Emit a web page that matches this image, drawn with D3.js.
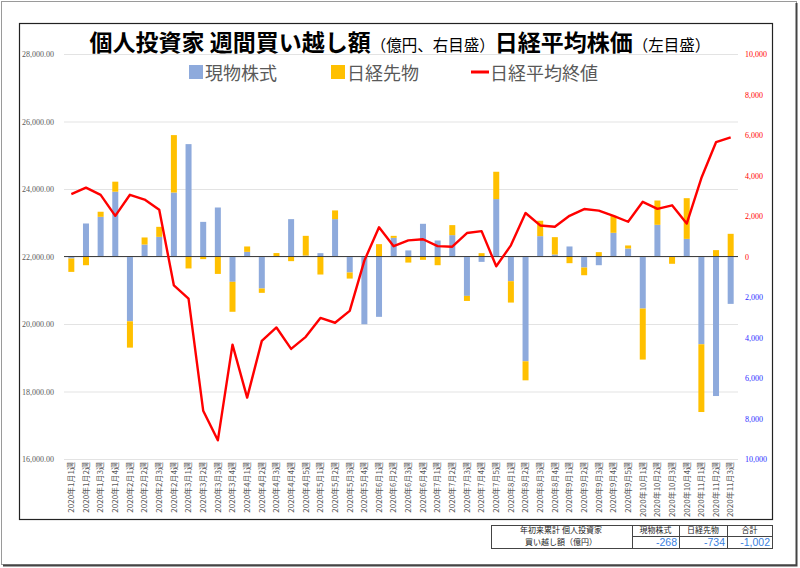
<!DOCTYPE html>
<html>
<head>
<meta charset="utf-8">
<script src="https://cdn.jsdelivr.net/npm/d3@7"></script>
<style>
body { margin: 0; background: #fff; }
svg text { font-family: "Noto Sans CJK JP", "Noto Sans", sans-serif; }
</style>
</head>
<body>
<div id="chart"></div>
<script>
// weekly labels
const weeks = [
	"2020年1月1週", "2020年1月2週", "2020年1月3週", "2020年1月4週",
	"2020年2月1週", "2020年2月2週", "2020年2月3週", "2020年2月4週",
	"2020年3月1週", "2020年3月2週", "2020年3月3週", "2020年3月4週",
	"2020年4月1週", "2020年4月2週", "2020年4月3週", "2020年4月4週", "2020年4月5週",
	"2020年5月1週", "2020年5月2週", "2020年5月3週", "2020年5月4週",
	"2020年6月1週", "2020年6月2週", "2020年6月3週", "2020年6月4週",
	"2020年7月1週", "2020年7月2週", "2020年7月3週", "2020年7月4週", "2020年7月5週",
	"2020年8月1週", "2020年8月2週", "2020年8月3週", "2020年8月4週",
	"2020年9月1週", "2020年9月2週", "2020年9月3週", "2020年9月4週", "2020年9月5週",
	"2020年10月1週", "2020年10月2週", "2020年10月3週", "2020年10月4週",
	"2020年11月1週", "2020年11月2週", "2020年11月3週"
];

// 現物株式 (億円)
const spot = [-100, 1630, 1960, 3200, -3200, 590, 970, 3160, 5550, 1710,
	2420, -1250, 230, -1580, 20, 1845, 50, 165, 1845, -790,
	-3345, -2980, 920, 300, 1615, 790, 1055, -1945, -265, 2835,
	-1220, -5175, 1005, 100, 495, -545, -430, 1170, 395, -2570,
	1565, 0, 870, -4335, -6890, -2340];

// 日経先物 (億円)
const futures = [-660, -430, 250, 495, -1300, 350, 495, 2835, -590, -130,
	-860, -1480, 265, -215, 150, -230, 970, -890, 430, -300,
	0, 610, 100, -300, -165, -430, 495, -250, 165, 1350,
	-1055, -940, 760, 855, -330, -380, 215, 840, 150, -2520,
	1200, -360, 2010, -3345, 315, 1120];

// 日経平均終値
const nikkei = [23851, 24041, 23827, 23205, 23828, 23688, 23387, 21143, 20750, 17431,
	16553, 19389, 17820, 19499, 19897, 19262, 19619, 20179, 20037, 20388,
	21878, 22864, 22305, 22479, 22512, 22306, 22291, 22696, 22752, 21710,
	22330, 23289, 22920, 22883, 23205, 23406, 23360, 23205, 23030, 23620,
	23411, 23517, 22977, 24325, 25386, 25527];

const leftTicks = [16000, 18000, 20000, 22000, 24000, 26000, 28000];
const rightTicks = [-10000, -8000, -6000, -4000, -2000, 0, 2000, 4000, 6000, 8000, 10000];

const tableHead = ["現物株式", "日経先物", "合計"];
const tableVals = ["-268", "-734", "-1,002"];

const width = 800, height = 568;
const plot = { left: 64, right: 738, top: 54, bottom: 459 };

const svg = d3.select("#chart").append("svg")
	.attr("width", width)
	.attr("height", height);

// frames
svg.append("rect").attr("x", 1.5).attr("y", 1.5).attr("width", 795).attr("height", 563)
	.attr("fill", "#fff").attr("stroke", "#9a9a9a").attr("stroke-width", 1);
svg.append("path").attr("d", "M796.5,3V565.5H3").attr("fill", "none").attr("stroke", "#444").attr("stroke-width", 2);
svg.append("rect").attr("x", 19.5).attr("y", 23.5).attr("width", 753).attr("height", 496)
	.attr("fill", "#fff").attr("stroke", "#222").attr("stroke-width", 1.2);

const x = d3.scaleBand().domain(weeks).range([plot.left, plot.right]);
const yL = d3.scaleLinear().domain([16000, 28000]).range([plot.bottom, plot.top]);
const yR = d3.scaleLinear().domain([-10000, 10000]).range([plot.bottom, plot.top]);

// gridlines
svg.append("g")
	.attr("transform", `translate(${plot.left},0)`)
	.call(d3.axisLeft(yL).tickValues(leftTicks).tickSize(-(plot.right - plot.left)).tickFormat(""))
	.call((g) => g.select(".domain").remove())
	.call((g) => g.selectAll("line").attr("stroke", "#e3e3e3").attr("stroke-width", 1.2));

// left axis labels
svg.append("g")
	.attr("transform", `translate(${plot.left - 1},0)`)
	.call(d3.axisLeft(yL).tickValues(leftTicks).tickSize(0).tickPadding(9).tickFormat(d3.format(",.2f")))
	.call((g) => g.select(".domain").remove())
	.call((g) => g.selectAll("text").attr("fill", "#595959").style("font-size", "8px")
		.style("font-family", "'Liberation Serif', serif"));

// right axis labels
svg.append("g")
	.attr("transform", `translate(${plot.right},0)`)
	.call(d3.axisRight(yR).tickValues(rightTicks).tickSize(0).tickPadding(7)
		.tickFormat((d) => d3.format(",")(Math.abs(d))))
	.call((g) => g.select(".domain").remove())
	.call((g) => g.selectAll("text")
		.attr("fill", (d) => (d >= 0 ? "#ff0000" : "#2b2bff"))
		.style("font-size", "8px")
		.style("font-family", "'Liberation Serif', serif"));

// stacked bars
const rows = weeks.map((w, i) => ({ week: w, spot: spot[i], futures: futures[i] }));
const series = d3.stack().keys(["spot", "futures"]).offset(d3.stackOffsetDiverging)(rows);
const colors = { spot: "#8eaadc", futures: "#ffc000" };
const barW = 6;

svg.append("g")
	.selectAll("g")
	.data(series)
	.enter()
	.append("g")
	.attr("fill", (s) => colors[s.key])
	.selectAll("rect")
	.data((s) => s)
	.enter()
	.append("rect")
	.attr("x", (d) => x(d.data.week) + x.bandwidth() / 2 - barW / 2)
	.attr("width", barW)
	.attr("y", (d) => yR(Math.max(d[0], d[1])))
	.attr("height", (d) => Math.abs(yR(d[0]) - yR(d[1])));

// zero line
svg.append("line")
	.attr("x1", plot.left).attr("x2", plot.right)
	.attr("y1", yR(0)).attr("y2", yR(0))
	.attr("stroke", "#404040").attr("stroke-width", 1);

// nikkei line
const line = d3.line()
	.x((d, i) => x(weeks[i]) + x.bandwidth() / 2)
	.y((d) => yL(d));

svg.append("path")
	.datum(nikkei)
	.attr("fill", "none")
	.attr("stroke", "#ff0000")
	.attr("stroke-width", 2.4)
	.attr("stroke-linejoin", "round")
	.attr("d", line);

// x axis labels
svg.append("g")
	.attr("transform", `translate(0,${plot.bottom})`)
	.call(d3.axisBottom(x).tickSize(0))
	.call((g) => g.select(".domain").remove())
	.call((g) => g.selectAll("text")
		.attr("transform", "rotate(-90)")
		.attr("x", -3)
		.attr("y", 0)
		.attr("dy", "0.35em")
		.style("text-anchor", "end")
		.style("font-size", "8px")
		.attr("fill", "#595959"));

// title
const title = svg.append("text")
	.attr("x", 400).attr("y", 51)
	.attr("text-anchor", "middle")
	.attr("fill", "#000");
title.append("tspan").style("font-size", "23px").style("font-weight", "bold").text("個人投資家 週間買い越し額");
title.append("tspan").style("font-size", "15.5px").text("（億円、右目盛）");
title.append("tspan").style("font-size", "23px").style("font-weight", "bold").text("日経平均株価");
title.append("tspan").style("font-size", "15.5px").text("（左目盛）");

// legend
const legend = svg.append("g").attr("fill", "#595959").style("font-size", "18px");
legend.append("rect").attr("x", 189).attr("y", 65).attr("width", 14).attr("height", 14).attr("fill", colors.spot);
legend.append("text").attr("x", 205).attr("y", 80).text("現物株式");
legend.append("rect").attr("x", 331).attr("y", 65).attr("width", 14).attr("height", 14).attr("fill", colors.futures);
legend.append("text").attr("x", 347).attr("y", 80).text("日経先物");
legend.append("line").attr("x1", 471).attr("x2", 489).attr("y1", 72).attr("y2", 72)
	.attr("stroke", "#ff0000").attr("stroke-width", 3);
legend.append("text").attr("x", 490).attr("y", 80).text("日経平均終値");

// summary table
const tbl = svg.append("g").style("font-size", "8px");
const tx = [491, 632, 679, 727, 772];
const ty = [525, 536, 548];
tbl.append("rect").attr("x", tx[0] + 0.5).attr("y", ty[0] + 0.5)
	.attr("width", tx[4] - tx[0]).attr("height", ty[2] - ty[0])
	.attr("fill", "#fff").attr("stroke", "#444").attr("stroke-width", 1);
[1, 2, 3].forEach((i) => {
	tbl.append("line").attr("x1", tx[i] + 0.5).attr("x2", tx[i] + 0.5)
		.attr("y1", ty[0]).attr("y2", ty[2]).attr("stroke", "#444");
});
tbl.append("line").attr("x1", tx[1]).attr("x2", tx[4]).attr("y1", ty[1] + 0.5).attr("y2", ty[1] + 0.5)
	.attr("stroke", "#444");
tbl.append("text").attr("x", 561).attr("y", 532.5).attr("text-anchor", "middle").attr("fill", "#222")
	.text("年初来累計 個人投資家");
tbl.append("text").attr("x", 561).attr("y", 545).attr("text-anchor", "middle").attr("fill", "#222")
	.text("買い越し額（億円）");
tableHead.forEach((h, i) => {
	tbl.append("text").attr("x", (tx[i + 1] + tx[i + 2]) / 2).attr("y", 532.5)
		.attr("text-anchor", "middle").attr("fill", "#222").text(h);
	tbl.append("text").attr("x", tx[i + 2] - 2).attr("y", 546)
		.attr("text-anchor", "end").attr("fill", "#3a7fe0")
		.style("font-size", "10.5px").style("font-family", "'Liberation Sans', sans-serif")
		.text(tableVals[i]);
});
</script>
</body>
</html>
